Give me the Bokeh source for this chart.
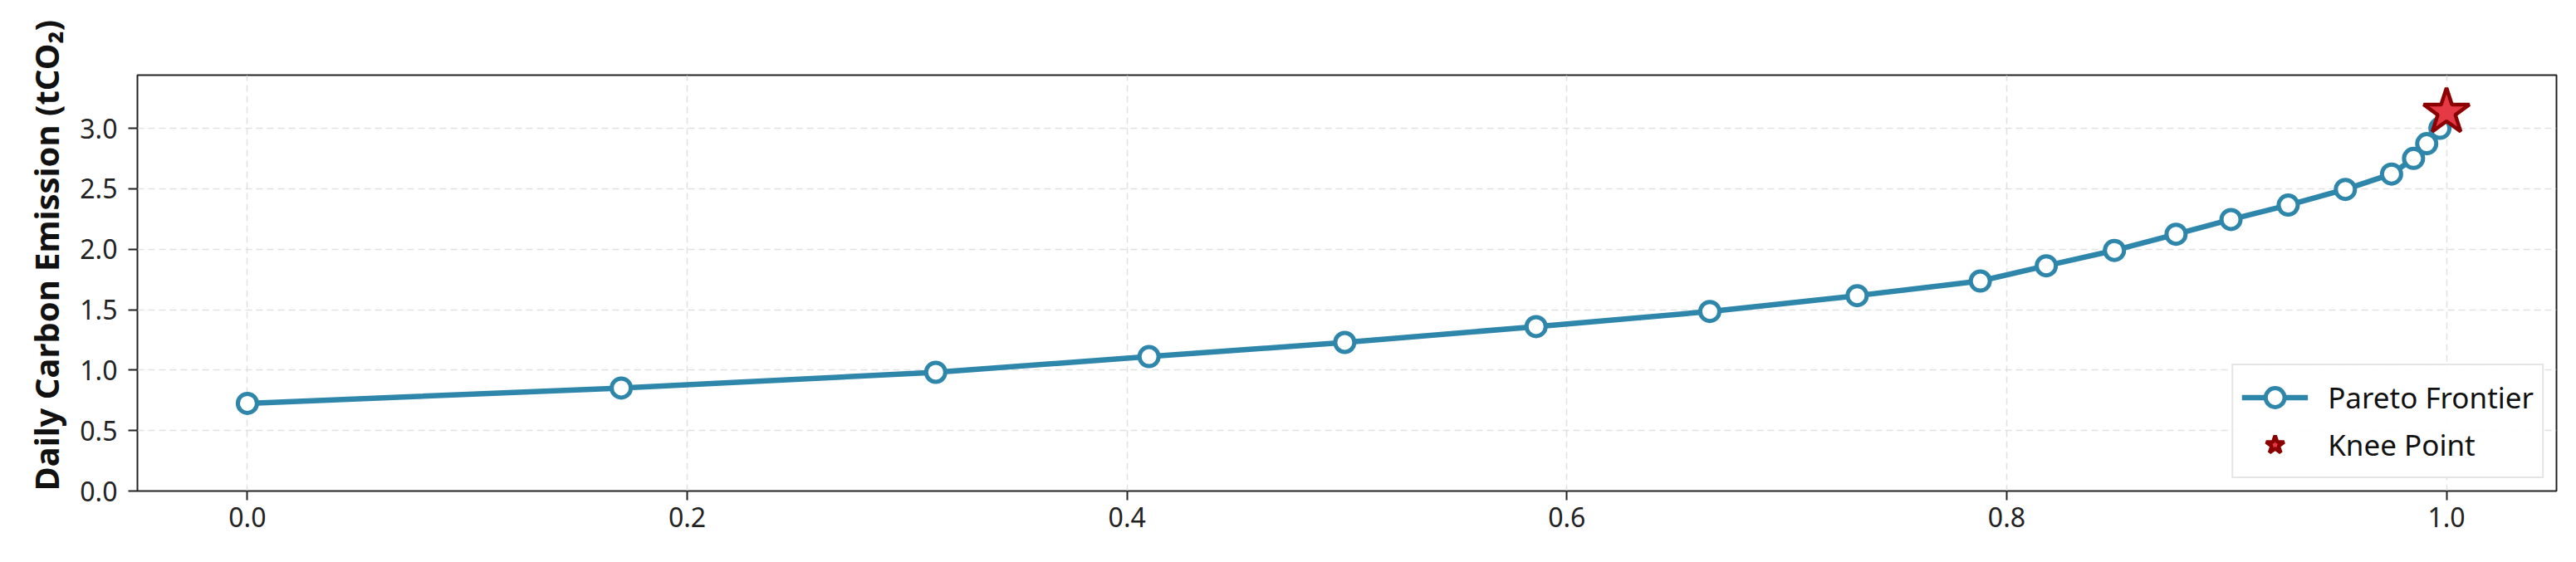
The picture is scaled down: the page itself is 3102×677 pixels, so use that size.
from bokeh.plotting import figure
from bokeh.models import Range1d, FixedTicker, NumeralTickFormatter, Legend, LegendItem, Title
from bokeh.embed import file_html
from bokeh.resources import INLINE

# ---- data ----
frontier_x = [0.0, 0.170, 0.313, 0.410, 0.499, 0.586, 0.665, 0.732, 0.788, 0.818,
              0.849, 0.877, 0.902, 0.928, 0.954, 0.975, 0.985, 0.991, 0.997, 1.0]
frontier_y = [0.725, 0.852, 0.982, 1.112, 1.229, 1.360, 1.485, 1.616, 1.737, 1.863,
              1.990, 2.124, 2.246, 2.365, 2.495, 2.622, 2.751, 2.873, 3.000, 3.135]
knee_x = [1.0]
knee_y = [3.135]
x_ticks = [0.0, 0.2, 0.4, 0.6, 0.8, 1.0]
y_ticks = [0.0, 0.5, 1.0, 1.5, 2.0, 2.5, 3.0]
y_label = "Daily Carbon Emission (tCO\u2082)"
series_labels = ["Pareto Frontier", "Knee Point"]

FONT = "Noto Sans"
LINE_C = "#2E86AB"

p = figure(width=3086, height=661, output_backend="svg", toolbar_location=None,
           x_range=Range1d(-0.05, 1.05), y_range=Range1d(0, 3.44),
           min_border_left=165, min_border_right=8, min_border_top=90, min_border_bottom=70)

p.outline_line_color = "#222222"
p.outline_line_width = 2
p.background_fill_color = "white"
p.border_fill_color = "white"

for ax in (p.xaxis[0], p.yaxis[0]):
    ax.axis_line_color = None
    ax.major_tick_line_color = "#222222"
    ax.major_tick_line_width = 2
    ax.major_tick_out = 11
    ax.major_tick_in = 0
    ax.minor_tick_line_color = None
    ax.major_label_text_font = FONT
    ax.major_label_text_font_size = "32px"
    ax.major_label_text_color = "#222222"
    ax.formatter = NumeralTickFormatter(format="0.0")

p.xaxis[0].ticker = FixedTicker(ticks=x_ticks)
p.yaxis[0].ticker = FixedTicker(ticks=y_ticks)
p.xaxis[0].major_label_standoff = 8
p.yaxis[0].major_label_standoff = 13

# y-axis title as a side title, anchored at the bottom of the frame
ytitle = Title(text=y_label, align="left", offset=0, standoff=22,
               text_font=FONT, text_font_style="bold", text_font_size="40px",
               text_color="#111111")
p.add_layout(ytitle, "left")

for g in (p.xgrid[0], p.ygrid[0]):
    g.grid_line_color = "#d9d9d9"
    g.grid_line_dash = "8 5"
    g.grid_line_width = 1.5
    g.grid_line_alpha = 0.8

ln = p.line(frontier_x, frontier_y, line_color=LINE_C, line_width=6.5)
sc = p.scatter(frontier_x, frontier_y, marker="circle", size=23,
               fill_color="white", line_color=LINE_C, line_width=5)
st = p.scatter(knee_x, knee_y, marker="star", size=58,
               fill_color="#E63946", line_color="#8B0000", line_width=4.5)

legend = Legend(items=[LegendItem(label=series_labels[0], renderers=[ln, sc]),
                       LegendItem(label=series_labels[1], renderers=[st])],
                location="bottom_right")
legend.label_text_font = FONT
legend.label_text_font_size = "35px"
legend.label_text_color = "#111111"
legend.glyph_width = 80
legend.glyph_height = 57
legend.label_height = 57
legend.label_standoff = 24
legend.spacing = 0
legend.padding = 10
legend.margin = 15
legend.border_line_color = "#cccccc"
legend.border_line_width = 2
legend.background_fill_alpha = 0.9
p.add_layout(legend)

open("out.html", "w").write(file_html(p, INLINE))
